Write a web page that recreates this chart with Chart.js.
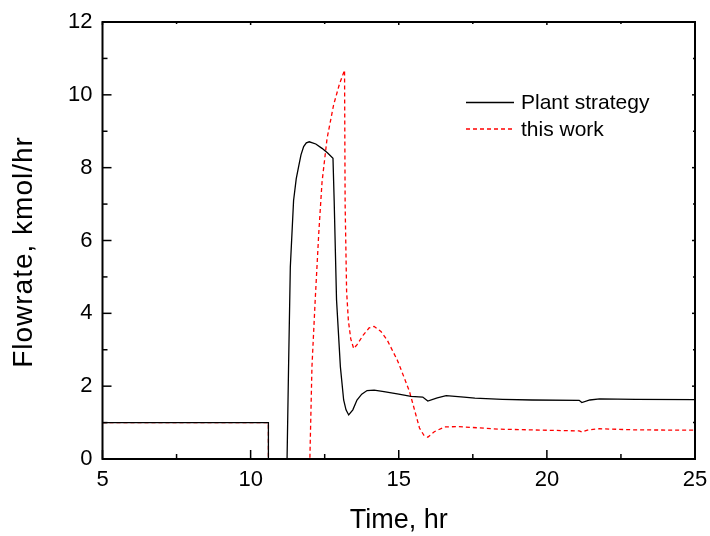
<!DOCTYPE html>
<html><head><meta charset="utf-8">
<script src="https://cdn.jsdelivr.net/npm/chart.js@4.4.1/dist/chart.umd.min.js"></script>
<style>html,body{margin:0;padding:0;background:#fff}#wrap{width:710px;height:536px}</style>
</head><body><div id="wrap"><canvas id="c"></canvas></div>
<script>
const seriesNames = ['Plant strategy', 'this work'];
const plantTime = [5, 10.6, 10.6, 11.23, 11.28, 11.34, 11.45, 11.54, 11.62, 11.7, 11.79, 11.88, 11.98, 12.2, 12.41, 12.6, 12.78, 12.82, 12.9, 13.03, 13.14, 13.22, 13.31, 13.45, 13.59, 13.75, 13.93, 14.17, 14.5, 15.0, 15.41, 15.81, 15.98, 16.3, 16.6, 17.2, 17.57, 18.5, 19.5, 21.09, 21.18, 21.45, 21.78, 23, 25];
const plantFlow = [1, 1, 0, 0, 2.5, 5.27, 7.1, 7.7, 8.03, 8.35, 8.58, 8.68, 8.71, 8.65, 8.53, 8.4, 8.26, 7.1, 4.37, 2.53, 1.62, 1.35, 1.21, 1.35, 1.62, 1.78, 1.88, 1.89, 1.85, 1.78, 1.72, 1.70, 1.59, 1.68, 1.74, 1.70, 1.67, 1.64, 1.62, 1.61, 1.55, 1.62, 1.65, 1.64, 1.63];
const workTime = [5, 10.6, 10.6, 12.0, 12.07, 12.18, 12.3, 12.41, 12.58, 12.8, 13.0, 13.17, 13.19, 13.24, 13.3, 13.38, 13.48, 13.6, 13.8, 14.0, 14.17, 14.4, 14.62, 14.96, 15.2, 15.36, 15.7, 15.85, 15.98, 16.2, 16.55, 17.0, 18.37, 21.09, 21.18, 21.4, 21.78, 23, 25];
const workFlow = [1, 1, 0, 0, 2.53, 4.37, 6.2, 7.6, 8.8, 9.72, 10.3, 10.68, 7.0, 4.6, 3.8, 3.3, 3.03, 3.15, 3.4, 3.6, 3.64, 3.5, 3.25, 2.7, 2.2, 1.86, 0.85, 0.65, 0.6, 0.75, 0.88, 0.89, 0.82, 0.77, 0.74, 0.8, 0.83, 0.8, 0.79];
const xTickValues = [5, 10, 15, 20, 25];
const yTickValues = [0, 2, 4, 6, 8, 10, 12];
const xTitle = 'Time, hr';
const yTitle = 'Flowrate, kmol/hr';

const toPts = (xs, ys) => xs.map((x, i) => ({x: x, y: ys[i]}));
const FONT = "'Liberation Sans', Arial, sans-serif";

const framePlugin = {
  id: 'frame',
  afterDatasetsDraw(chart) {
    const {ctx, chartArea: {left, right, top, bottom}, scales: {x, y}} = chart;
    ctx.save();
    ctx.strokeStyle = '#000';
    const line = (x1, y1, x2, y2) => { ctx.beginPath(); ctx.moveTo(x1, y1); ctx.lineTo(x2, y2); ctx.stroke(); };
    ctx.lineWidth = 1.5;
    const xs = x.ticks.map(t => t.value);
    xs.forEach((v, i) => {
      const p = x.getPixelForValue(v);
      line(p, bottom, p, bottom - 9);
      line(p, top, p, top + 3);
      if (i < xs.length - 1) {
        const m = x.getPixelForValue((v + xs[i + 1]) / 2);
        line(m, bottom, m, bottom - 5);
        line(m, top, m, top + 2);
      }
    });
    const ys = y.ticks.map(t => t.value);
    ys.forEach((v, i) => {
      const p = y.getPixelForValue(v);
      line(left, p, left + 9, p);
      line(right, p, right - 3, p);
      if (i < ys.length - 1) {
        const m = y.getPixelForValue((v + ys[i + 1]) / 2);
        line(left, m, left + 5, m);
        line(right, m, right - 2, m);
      }
    });
    ctx.lineWidth = 2;
    ctx.strokeRect(left, top, right - left, bottom - top);
    // legend
    const lx0 = 466, lx1 = 514, tx = 521, ly = [102.5, 129];
    chart.data.datasets.forEach((ds, i) => {
      ctx.strokeStyle = ds.borderColor;
      ctx.lineWidth = ds.borderWidth;
      ctx.setLineDash(ds.borderDash || []);
      line(lx0, ly[i], lx1, ly[i]);
      ctx.setLineDash([]);
      ctx.fillStyle = '#000';
      ctx.font = '21px ' + FONT;
      ctx.textBaseline = 'middle';
      ctx.textAlign = 'left';
      ctx.fillText(ds.label, tx, ly[i] + 1);
    });
    // axis titles
    ctx.fillStyle = '#000';
    ctx.textAlign = 'center';
    ctx.textBaseline = 'middle';
    ctx.font = '27px ' + FONT;
    ctx.fillText(xTitle, (left + right) / 2, 521);
    ctx.save();
    ctx.translate(24, 252);
    ctx.rotate(-Math.PI / 2);
    ctx.font = '28px ' + FONT;
    try { ctx.letterSpacing = '1px'; } catch (e) {}
    ctx.fillText(yTitle, 0, 0);
    ctx.restore();
    ctx.restore();
  }
};

new Chart(document.getElementById('c'), {
  type: 'line',
  data: {
    datasets: [
      {label: seriesNames[0], data: toPts(plantTime, plantFlow), borderColor: '#000000', borderWidth: 1.3, pointRadius: 0, tension: 0},
      {label: seriesNames[1], data: toPts(workTime, workFlow), borderColor: '#ff0000', borderWidth: 1.3, borderDash: [4, 3], pointRadius: 0, tension: 0}
    ]
  },
  options: {
    animation: false,
    responsive: true,
    maintainAspectRatio: false,
    layout: {padding: {top: 22, right: 15, left: 0, bottom: 0}},
    plugins: {legend: {display: false}, tooltip: {enabled: false}},
    scales: {
      x: {
        type: 'linear', min: 5, max: 25,
        afterBuildTicks: s => { s.ticks = xTickValues.map(v => ({value: v})); },
        afterFit: s => { s.height = 77; s.paddingLeft = 0; s.paddingRight = 0; },
        grid: {display: false, drawTicks: false},
        border: {display: false},
        ticks: {color: '#000', font: {family: FONT, size: 22}, padding: 8, maxRotation: 0},
        title: {display: false}
      },
      y: {
        type: 'linear', min: 0, max: 12,
        afterBuildTicks: s => { s.ticks = yTickValues.map(v => ({value: v})); },
        afterFit: s => { s.width = 102.5; s.paddingTop = 0; s.paddingBottom = 0; },
        grid: {display: false, drawTicks: false},
        border: {display: false},
        ticks: {color: '#000', font: {family: FONT, size: 22}, padding: 10},
        title: {display: false}
      }
    }
  },
  plugins: [framePlugin]
});
</script>
</body></html>
